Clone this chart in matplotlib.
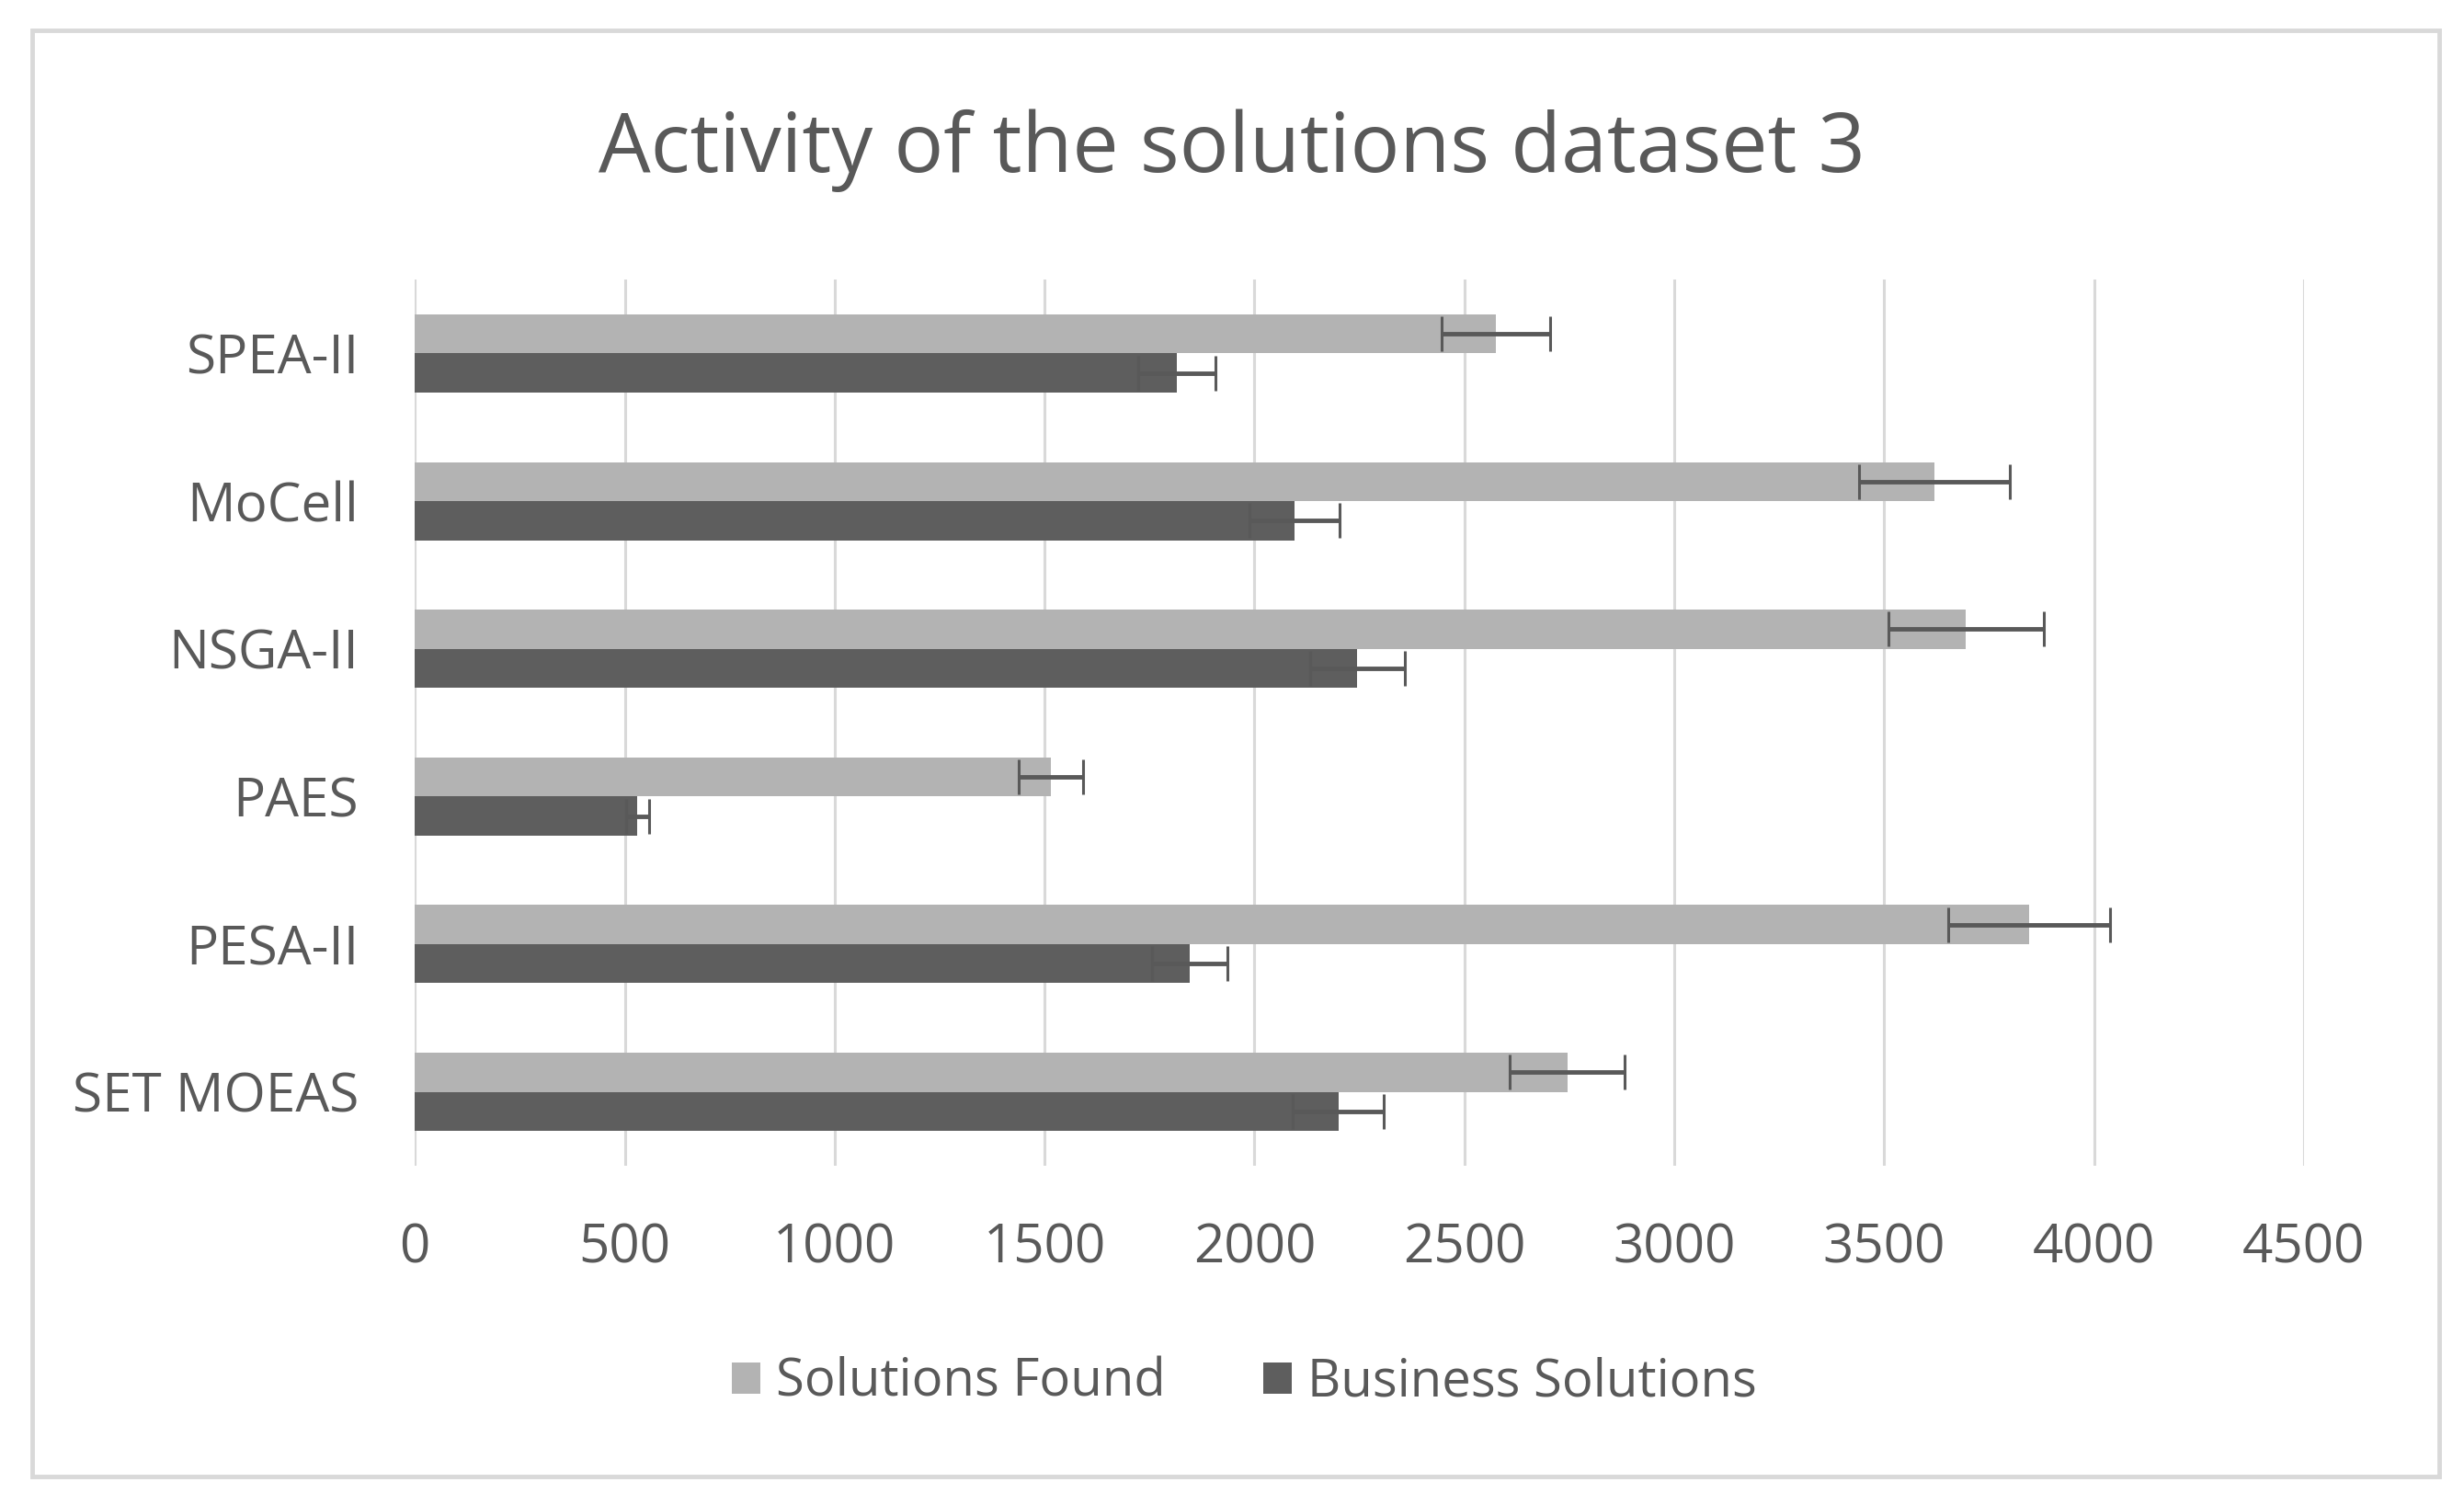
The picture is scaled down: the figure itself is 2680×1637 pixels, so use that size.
import numpy as np
import matplotlib
matplotlib.use("Agg")
import matplotlib.pyplot as plt
from matplotlib.patches import Rectangle

# ── Daten ─────────────────────────────────────────────────────────────
algorithmen = ["SPEA-II", "MoCell", "NSGA-II", "PAES", "PESA-II", "SET MOEAS"]
solutions_found = [2575, 3620, 3695, 1515, 3845, 2745]
solutions_found_err = [130, 180, 185, 77, 193, 137]
business_solutions = [1815, 2095, 2245, 530, 1845, 2200]
business_solutions_err = [92, 107, 113, 28, 90, 108]
x_ticks = [0, 500, 1000, 1500, 2000, 2500, 3000, 3500, 4000, 4500]

hell = "#B3B3B3"
dunkel = "#5E5E5E"
text_farbe = "#595959"
gitter = "#D9D9D9"

plt.rcParams["font.family"] = ["Open Sans", "DejaVu Sans"]

fig = plt.figure(figsize=(26.8, 16.37), dpi=100)
ax = fig.add_axes([0.1684, 0.2255, 0.7666, 0.5887])

# Rahmen um das ganze Diagramm
fig.patches.append(Rectangle((0.013, 0.019), 0.977, 0.961, transform=fig.transFigure,
                             fill=False, edgecolor=gitter, linewidth=3.5))

y = np.arange(len(algorithmen))
h = 0.265

ax.barh(y - h / 2, solutions_found, height=h, color=hell, label="Solutions Found", zorder=2)
ax.barh(y + h / 2, business_solutions, height=h, color=dunkel, label="Business Solutions", zorder=2)

ax.errorbar(solutions_found, y - h / 2, xerr=solutions_found_err, fmt="none",
            ecolor="#595959", elinewidth=3.5, capsize=14, capthick=2.2, zorder=3)
ax.errorbar(business_solutions, y + h / 2, xerr=business_solutions_err, fmt="none",
            ecolor="#595959", elinewidth=3.5, capsize=14, capthick=2.2, zorder=3)

ax.set_xlim(0, 4500)
ax.set_ylim(len(algorithmen) - 0.5, -0.5)
ax.set_xticks(x_ticks)
ax.set_yticks(y)
ax.set_yticklabels(algorithmen)
ax.tick_params(axis="both", length=0, labelsize=42, colors=text_farbe)
ax.tick_params(axis="x", pad=44)
ax.tick_params(axis="y", pad=44)

ax.grid(axis="x", color=gitter, linewidth=2.2, zorder=0)
ax.set_axisbelow(True)
for s in ax.spines.values():
    s.set_visible(False)

fig.text(0.5, 0.9, "Activity of the solutions dataset 3", ha="center", va="center",
         fontsize=64.5, color=text_farbe)

leg = fig.legend(loc="center", bbox_to_anchor=(0.505, 0.081), ncol=2, frameon=False,
                 fontsize=40.5, handlelength=0.55, handleheight=0.55, handletextpad=0.3,
                 columnspacing=1.9)
for t in leg.get_texts():
    t.set_color(text_farbe)

fig.savefig("out.png", dpi=100)
